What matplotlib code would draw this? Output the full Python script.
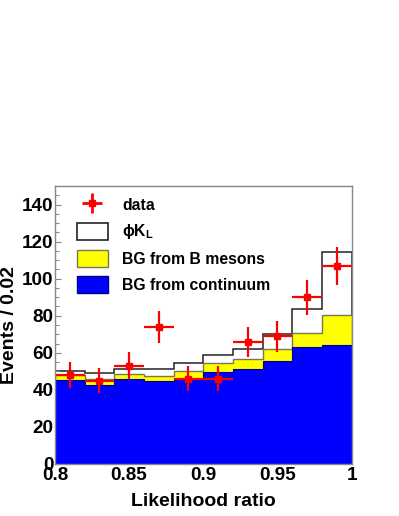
"""Likelihood ratio distribution: data vs stacked phiK_L / B-meson BG / continuum BG."""

import matplotlib
import numpy as np

matplotlib.use("Agg")
import matplotlib.pyplot as plt  # noqa: E402
from matplotlib.lines import Line2D  # noqa: E402
from matplotlib.patches import Patch  # noqa: E402

plt.rcParams["font.family"] = ["Liberation Sans", "DejaVu Sans"]
plt.rcParams["font.weight"] = "bold"
plt.rcParams["mathtext.fontset"] = "custom"
plt.rcParams["mathtext.rm"] = "Liberation Sans:bold"
plt.rcParams["mathtext.it"] = "Liberation Sans:bold"
plt.rcParams["mathtext.bf"] = "Liberation Sans:bold"

# bin edges of the likelihood ratio (width 0.02)
edges = [0.80, 0.82, 0.84, 0.86, 0.88, 0.90, 0.92, 0.94, 0.96, 0.98, 1.00]

# stacked expectations (cumulative tops)
continuum = [45.3, 42.8, 45.6, 44.9, 45.6, 49.6, 51.0, 55.7, 62.9, 64.3]
cont_plus_b = [47.8, 45.6, 48.5, 47.6, 50.3, 54.3, 56.8, 61.8, 70.8, 80.5]
total = [50.3, 48.9, 51.0, 51.4, 54.6, 58.9, 62.2, 70.1, 83.4, 114.3]

# data points
bin_centers = [0.81, 0.83, 0.85, 0.87, 0.89, 0.91, 0.93, 0.95, 0.97, 0.99]
data = [48, 45, 53, 74, 46, 46, 66, 69, 90, 107]
data_err = [6.9, 6.7, 7.3, 8.6, 6.8, 6.8, 8.1, 8.3, 9.5, 10.3]
half_bin = [0.01] * 10

fig = plt.figure(figsize=(3.99, 5.16), dpi=100)
ax = fig.add_axes([0.1378, 0.1008, 0.7432, 0.5387])

ax.stairs(total, edges, fill=True, color="white", zorder=1)
ax.stairs(total, edges, color="#222222", lw=1.1, zorder=1.5)
ax.stairs(cont_plus_b, edges, fill=True, color="#ffff00", zorder=2)
ax.stairs(cont_plus_b, edges, color="#777755", lw=1.0, zorder=2.1)
ax.stairs(continuum, edges, fill=True, color="#0000ff", zorder=3)
ax.stairs(continuum, edges, color="#00008a", lw=0.8, zorder=3.1)

ax.errorbar(bin_centers, data, yerr=data_err, xerr=half_bin, fmt="s", color="#ff0000",
            ms=4.8, elinewidth=1.6, capsize=0, zorder=5)

ax.set_xlim(0.8, 1.0)
ax.set_ylim(0, 150)
ax.set_xticks([0.8, 0.85, 0.9, 0.95, 1.0])
ax.set_xticklabels(["0.8", "0.85", "0.9", "0.95", "1"])
ax.set_yticks(np.arange(0, 141, 20))
ax.set_yticks(np.arange(0, 150, 5), minor=True)
ax.tick_params(axis="y", which="major", direction="in", length=4.3, width=0.8,
               color="#888888", labelsize=13.6, pad=1)
ax.tick_params(axis="y", which="minor", direction="in", length=2.8, width=0.8,
               color="#888888")
ax.tick_params(axis="x", which="both", length=0, labelsize=13.6, pad=2)
for lab in ax.get_xticklabels() + ax.get_yticklabels():
    lab.set_fontweight("bold")
for sp in ax.spines.values():
    sp.set_color("#888888")
    sp.set_linewidth(1.0)
    sp.set_zorder(6)

ax.set_xlabel("Likelihood ratio", fontsize=14, fontweight="bold", labelpad=7)
ax.set_ylabel("Events / 0.02", fontsize=14, fontweight="bold", labelpad=3)

h_data = (Line2D([], [], ls="none", marker="+", ms=15, mew=2.0, color="#ff0000"),
          Line2D([], [], ls="none", marker="s", ms=4.8, color="#ff0000"))
h_sig = Patch(facecolor="white", edgecolor="#222222", lw=1.2)
h_b = Patch(facecolor="#ffff00", edgecolor="#777755", lw=1.0)
h_c = Patch(facecolor="#0000ff", edgecolor="#00008a", lw=1.0)
leg = ax.legend([h_data, h_sig, h_b, h_c],
                ["data", "ϕK$_\\mathregular{L}$", "BG from B mesons", "BG from continuum"],
                loc="upper left", bbox_to_anchor=(0.074, 0.962), frameon=False,
                fontsize=11.3, handlelength=1.95, handleheight=1.3, labelspacing=0.55,
                handletextpad=0.95, borderpad=0, borderaxespad=0)
for t in leg.get_texts():
    t.set_fontweight("bold")

fig.savefig("out.png", dpi=100)
